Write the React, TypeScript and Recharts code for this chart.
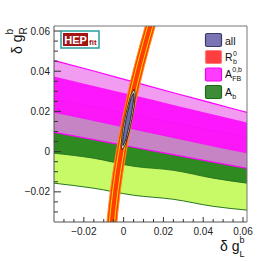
import React from 'react';
import { ComposedChart, Area, XAxis, YAxis, ReferenceLine } from 'recharts';

const X_DOMAIN: [number, number] = [-0.035, 0.062];
const Y_DOMAIN: [number, number] = [-0.035, 0.0625];
const AXIS_TICKS = [
  -0.03, -0.025, -0.02, -0.015, -0.01, -0.005, 0, 0.005, 0.01, 0.015, 0.02, 0.025, 0.03, 0.035, 0.04, 0.045,
  0.05, 0.055, 0.06,
];

// horizontal bands, sampled along δg_L^b
const bandX = [-0.035, -0.015, 0.005, 0.025, 0.045, 0.062];
const afbOuterHi = [0.0453, 0.0401, 0.0347, 0.0293, 0.024, 0.0195];
const afbOuterLo = [0.0096, 0.006, 0.0022, -0.0015, -0.0052, -0.0083];
const afbInnerHi = [0.0374, 0.0327, 0.028, 0.0232, 0.0185, 0.0145];
const afbInnerLo = [0.0193, 0.0152, 0.011, 0.0068, 0.0026, -0.0008];
const abOuterHi = [0.026, 0.0221, 0.0182, 0.0143, 0.0104, 0.0071];
const abOuterLo = [-0.0157, -0.0182, -0.0217, -0.0237, -0.0272, -0.0291];
const abInnerHi = [0.0195, 0.0156, 0.0111, 0.0071, 0.0026, -0.0008];
const abInnerLo = [-0.0008, -0.0033, -0.0073, -0.0093, -0.0132, -0.0157];

// R_b ring, sampled along δg_R^b (values are δg_L^b edges)
const rbY = [0.066, 0.043, 0.033, 0.016, 0, -0.019, -0.038];
const rbOuterLo = [0.0119, 0.0055, 0.003, -0.0007, -0.0037, -0.0066, -0.0087];
const rbOuterHi = [0.0169, 0.0105, 0.008, 0.0043, 0.0013, -0.0016, -0.0037];
const rbInnerLo = [0.0131, 0.0067, 0.0042, 0.0005, -0.0025, -0.0054, -0.0075];
const rbInnerHi = [0.0157, 0.0093, 0.0068, 0.0031, 0.0001, -0.0028, -0.0049];

// combined fit ellipse
const allOuterY = [0.031, 0.029, 0.026, 0.022, 0.016, 0.01, 0.006, 0.003, 0.001];
const allOuterLo = [0.0053, 0.004, 0.003, 0.0019, 0.0005, -0.0006, -0.001, -0.0012, -0.0007];
const allOuterHi = [0.0053, 0.0058, 0.0056, 0.0052, 0.0041, 0.0028, 0.0016, 0.0006, -0.0007];
const allInnerY = [0.029, 0.027, 0.023, 0.016, 0.009, 0.005, 0.003];
const allInnerLo = [0.0049, 0.0039, 0.0028, 0.0012, 0.0, -0.0005, -0.0003];
const allInnerHi = [0.0049, 0.0051, 0.0046, 0.0034, 0.0018, 0.0007, -0.0003];

const hBand = (lo: number[], hi: number[]) => bandX.map((x, i) => ({ x, v: [lo[i], hi[i]] }));
const vBand = (ys: number[], lo: number[], hi: number[]) => ys.map((y, i) => ({ y, v: [lo[i], hi[i]] }));

const FONT = '"Liberation Sans", Arial, Helvetica, sans-serif';
const W = 274;
const H = 262;
const MARGIN = { top: 26, right: 27, left: 54, bottom: 40 };

const isMajor = (v: number) => Math.abs(Math.round(v / 0.02) * 0.02 - v) < 1e-9;
const fmt = (v: number) => (Math.abs(v) < 1e-9 ? '0' : (v < 0 ? '\u2212' : '') + Math.abs(v).toFixed(2));

function XTick({ x, y, payload }: any) {
  const major = isMajor(payload.value);
  return (
    <g>
      <line x1={x} x2={x} y1={y} y2={y - (major ? 5 : 3)} stroke="#333" strokeWidth={1} />
      {major && (
        <text x={x} y={y + 12.5} textAnchor="middle" fontSize={10} fill="#222" fontFamily={FONT}>
          {fmt(payload.value)}
        </text>
      )}
    </g>
  );
}

function YTick({ x, y, payload }: any) {
  const major = isMajor(payload.value);
  return (
    <g>
      <line x1={x} x2={x + (major ? 7 : 4)} y1={y} y2={y} stroke="#333" strokeWidth={1} />
      {major && (
        <text x={x - 4} y={y + 3.6} textAnchor="end" fontSize={10} fill="#222" fontFamily={FONT}>
          {fmt(payload.value)}
        </text>
      )}
    </g>
  );
}

const legendItems = [
  { key: 'all', fill: '#7a74b2', stroke: '#3a3a70' },
  { key: 'rb', fill: '#ff3f3f', stroke: '#ff7a7a' },
  { key: 'afb', fill: '#ff3cff', stroke: '#ee00ee' },
  { key: 'ab', fill: '#3f8c38', stroke: '#1d6a1d' },
];

export default function App() {
  return (
    <div style={{ position: 'fixed', left: 0, top: 0, width: W, height: H, background: '#fff', fontFamily: FONT }}>
      <div style={{ position: 'absolute', left: 0, top: 0 }}>
        <ComposedChart width={W} height={H} margin={MARGIN}>
          <XAxis type="number" dataKey="x" domain={X_DOMAIN} allowDataOverflow hide />
          <YAxis type="number" domain={Y_DOMAIN} allowDataOverflow hide />
          <Area data={hBand(abOuterLo, abOuterHi)} dataKey="v" type="monotone" fill="#c8fa68" fillOpacity={1}
            stroke="#27771c" strokeWidth={1} isAnimationActive={false} dot={false} activeDot={false} />
          <Area data={hBand(abInnerLo, abInnerHi)} dataKey="v" type="monotone" fill="#2f8a22" fillOpacity={1}
            stroke="#1f6a1a" strokeWidth={0.8} isAnimationActive={false} dot={false} activeDot={false} />
          <Area data={hBand(afbOuterLo, afbOuterHi)} dataKey="v" type="monotone" fill="#ee82ee" fillOpacity={0.8}
            stroke="#ff00ff" strokeWidth={1.2} isAnimationActive={false} dot={false} activeDot={false} />
          <Area data={hBand(afbInnerLo, afbInnerHi)} dataKey="v" type="monotone" fill="#ff00ff" fillOpacity={0.85}
            stroke="none" isAnimationActive={false} dot={false} activeDot={false} />
        </ComposedChart>
      </div>
      <div style={{ position: 'absolute', left: 0, top: 0 }}>
        <ComposedChart width={W} height={H} layout="vertical" margin={{ top: 26, right: 27, left: 0, bottom: 0 }}>
          <XAxis type="number" domain={X_DOMAIN} allowDataOverflow ticks={AXIS_TICKS} interval={0} height={40}
            tickSize={0} tickMargin={0} tickLine={false} axisLine={{ stroke: '#555' }} tick={<XTick />} />
          <YAxis type="number" dataKey="y" domain={Y_DOMAIN} allowDataOverflow reversed ticks={AXIS_TICKS} interval={0}
            width={54} tickSize={0} tickMargin={0} tickLine={false} axisLine={{ stroke: '#555' }} tick={<YTick />} />
          <Area data={vBand(rbY, rbOuterLo, rbOuterHi)} dataKey="v" type="monotone" fill="#ff3d00" fillOpacity={1}
            stroke="#ff8c1a" strokeWidth={1} isAnimationActive={false} dot={false} activeDot={false} />
          <Area data={vBand(rbY, rbInnerLo, rbInnerHi)} dataKey="v" type="monotone" fill="#ff3d00" fillOpacity={1}
            stroke="#ffd500" strokeWidth={1} isAnimationActive={false} dot={false} activeDot={false} />
          <Area data={vBand(allOuterY, allOuterLo, allOuterHi)} dataKey="v" type="monotone" fill="#dcc8bc" fillOpacity={1}
            stroke="#111" strokeWidth={0.8} isAnimationActive={false} dot={false} activeDot={false} />
          <Area data={vBand(allInnerY, allInnerLo, allInnerHi)} dataKey="v" type="monotone" fill="#6c6ca8" fillOpacity={1}
            stroke="#111" strokeWidth={0.8} isAnimationActive={false} dot={false} activeDot={false} />
          <ReferenceLine y={Y_DOMAIN[1]} stroke="#777" strokeWidth={1} />
          <ReferenceLine x={X_DOMAIN[1]} stroke="#777" strokeWidth={1} />
        </ComposedChart>
      </div>
      <svg width={W} height={H} style={{ position: 'absolute', left: 0, top: 0, pointerEvents: 'none' }} fontFamily={FONT}>
        {/* HEPfit logo */}
        <rect x={61} y={31} width={38} height={17} fill="#fff" stroke="#2a9d9d" strokeWidth={1.5} />
        <rect x={63} y={33} width={25} height={13} fill="#a31515" />
        <text x={75.5} y={43.5} textAnchor="middle" fontSize={11} fontWeight="bold" fill="#fff">HEP</text>
        <text x={89} y={45} fontSize={8} fontWeight="bold" fill="#a31515">fit</text>

        {/* legend */}
        {legendItems.map((it, i) => (
          <rect key={it.key} x={205.5} y={[33.5, 50.5, 68, 85.5][i]} width={16} height={13} rx={1.5}
            fill={it.fill} stroke={it.stroke} strokeWidth={1.2} />
        ))}
        <text x={225} y={45} fontSize={10.5} fill="#111">all</text>
        <text x={225} y={61} fontSize={10.5} fill="#111">
          R<tspan dx={0.3} dy={2.5} fontSize={7}>b</tspan>
          <tspan dx={-3.9} dy={-8} fontSize={7}>0</tspan>
        </text>
        <text x={225} y={78} fontSize={10.5} fill="#111">
          A<tspan dx={0.3} dy={3} fontSize={7}>FB</tspan>
          <tspan dx={-9} dy={-9} fontSize={7}>0,b</tspan>
        </text>
        <text x={225} y={96} fontSize={10.5} fill="#111">
          A<tspan dx={0.3} dy={2.5} fontSize={7}>b</tspan>
        </text>

        {/* axis titles */}
        <text x={220} y={251} fontSize={14} fill="#111">
          δ g<tspan dy={-8} fontSize={9}>b</tspan>
          <tspan dx={-5} dy={13.5} fontSize={9}>L</tspan>
        </text>
        <text transform="translate(22,54) rotate(-90)" fontSize={14} fill="#111">
          δ g<tspan dy={-9} fontSize={10}>b</tspan>
          <tspan dx={-5.6} dy={14} fontSize={10}>R</tspan>
        </text>
      </svg>
    </div>
  );
}
